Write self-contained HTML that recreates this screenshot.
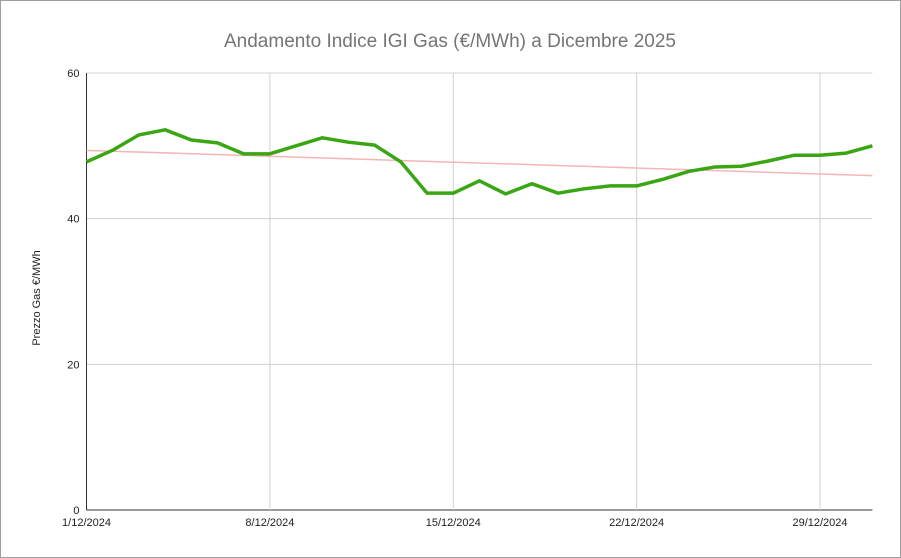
<!DOCTYPE html>
<html><head><meta charset="utf-8"><style>
html,body{margin:0;padding:0;background:#fff;}
svg{display:block;font-family:"Liberation Sans",Arial,sans-serif;}
</style></head><body>
<svg id="chart" width="901" height="558">
<rect x="0.5" y="0.5" width="900" height="557" fill="#fff" stroke="#9e9e9e"/>
<text x="450" y="47" text-anchor="middle" font-size="19" fill="#757575">Andamento Indice IGI Gas (€/MWh) a Dicembre 2025</text>
<text transform="translate(40,298) rotate(-90)" text-anchor="middle" font-size="11" fill="#222">Prezzo Gas €/MWh</text>
<g id="grid"></g>
<g id="marks"></g>
</svg>
<script>
const days=[1,2,3,4,5,6,7,8,9,10,11,12,13,14,15,16,17,18,19,20,21,22,23,24,25,26,27,28,29,30,31];
const prices=[47.8,49.4,51.5,52.2,50.8,50.4,48.9,48.9,50.0,51.1,50.5,50.1,47.8,43.5,43.5,45.2,43.4,44.8,43.5,44.1,44.5,44.5,45.4,46.5,47.1,47.2,47.9,48.7,48.7,49.0,50.0];
const yTicks=[0,20,40,60];
const xTickDays=[1,8,15,22,29];
const xTickLabels=["1/12/2024","8/12/2024","15/12/2024","22/12/2024","29/12/2024"];
const NS="http://www.w3.org/2000/svg";
const L=86.5,R=872.4,T=73,B=510;
const x=d=>L+(d-1)*(R-L)/30;
const y=v=>B-v*(B-T)/60;
function mk(tag,attrs,parent){const e=document.createElementNS(NS,tag);for(const k in attrs)e.setAttribute(k,attrs[k]);parent.appendChild(e);return e;}
const grid=document.getElementById('grid'),marks=document.getElementById('marks');
yTicks.forEach(v=>{
 const ln=mk('line',{x1:L,x2:R,y1:y(v),y2:y(v),stroke:v===0?'#333':'#d0d0d0'},grid);
 
 
 const t=mk('text',{x:L-7,y:y(v)+4,'text-anchor':'end','font-size':11,fill:'#222'},grid);
 t.textContent=v;
 
 
});
xTickDays.forEach((d,i)=>{
 if(i>0){const ln=mk('line',{x1:x(d),x2:x(d),y1:T,y2:B,stroke:'#d0d0d0'},grid);
 
 }
 const t=mk('text',{x:x(d),y:B+16,'text-anchor':'middle','font-size':11,fill:'#222'},grid);
 t.textContent=xTickLabels[i];
 
 
});
mk('line',{x1:L,x2:L,y1:T,y2:B,stroke:'#333'},grid);
// trendline (linear regression)
const n=days.length;let sx=0,sy=0,sxy=0,sxx=0;
for(let i=0;i<n;i++){sx+=days[i];sy+=prices[i];sxy+=days[i]*prices[i];sxx+=days[i]*days[i];}
const m=(n*sxy-sx*sy)/(n*sxx-sx*sx),b=(sy-m*sx)/n;
const tr=mk('line',{x1:x(days[0]),y1:y(m*days[0]+b),x2:x(days[n-1]),y2:y(m*days[n-1]+b),stroke:'#f4b6b6','stroke-width':1.5},marks);


const pl=mk('polyline',{points:days.map((d,i)=>x(d)+','+y(prices[i])).join(' '),fill:'none',stroke:'#3aa614','stroke-width':3.5,'stroke-linejoin':'round'},marks);


</script>
</body></html>
